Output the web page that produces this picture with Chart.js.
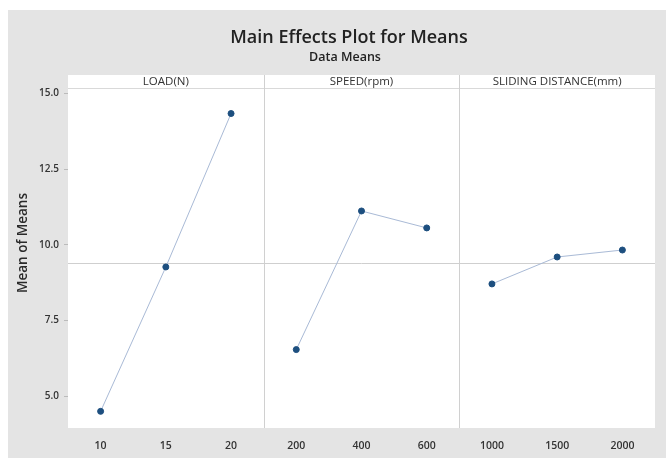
<!DOCTYPE html>
<html>
<head>
<meta charset="utf-8">
<script src="https://cdn.jsdelivr.net/npm/chart.js@4"></script>
<style>
  html, body { margin: 0; padding: 0; background: #ffffff; }
  #wrap { width: 666px; height: 458px; }
</style>
</head>
<body>
<div id="wrap"><canvas id="main-effects"></canvas></div>
<script>
// --- DATA ---
const factorNames = ['LOAD(N)', 'SPEED(rpm)', 'SLIDING DISTANCE(mm)'];
const loadLevels = ['10', '15', '20'];
const loadMeans = [4.50, 9.27, 14.34];
const speedLevels = ['200', '400', '600'];
const speedMeans = [6.54, 11.12, 10.56];
const distLevels = ['1000', '1500', '2000'];
const distMeans = [8.71, 9.60, 9.83];
const yTicks = [5.0, 7.5, 10.0, 12.5, 15.0];

// --- BUILD ---
const allLevels = [...loadLevels, ...speedLevels, ...distLevels];
const allMeans = [...loadMeans, ...speedMeans, ...distMeans];
const grandMean = allMeans.reduce((a, b) => a + b, 0) / allMeans.length;

function padSeries(values, slot) {
    const out = new Array(allLevels.length).fill(null);
    values.forEach((v, i) => { out[slot * 3 + i] = v; });
    return out;
}

const pointColor = '#1d4f7f';
const lineColor = '#a9bad6';

function makeDataset(label, values, slot) {
    return {
        label: label,
        data: padSeries(values, slot),
        borderColor: lineColor,
        borderWidth: 1,
        pointBackgroundColor: pointColor,
        pointBorderColor: pointColor,
        pointRadius: 3,
        spanGaps: false,
        tension: 0
    };
}

// background, header strip, titles and mean line
const decorPlugin = {
    id: 'decor',
    beforeDraw(chart) {
        const { ctx, chartArea } = chart;
        ctx.save();
        ctx.fillStyle = '#ffffff';
        ctx.fillRect(0, 0, chart.width, chart.height);
        ctx.fillStyle = '#e4e4e4';
        ctx.fillRect(8, 10, chart.width - 8, chart.height - 10);
        // white panel incl. strip
        ctx.fillStyle = '#ffffff';
        ctx.fillRect(chartArea.left, chartArea.top - 14, chartArea.right - chartArea.left, chartArea.bottom - chartArea.top + 14);
        ctx.strokeStyle = '#d9d9d9';
        ctx.lineWidth = 1;
        ctx.beginPath();
        ctx.moveTo(chartArea.left, chartArea.top - 0.5);
        ctx.lineTo(chartArea.right, chartArea.top - 0.5);
        ctx.stroke();

        // titles
        ctx.fillStyle = '#222222';
        ctx.textAlign = 'center';
        ctx.textBaseline = 'middle';
        ctx.font = '600 18px "Open Sans", sans-serif';
        ctx.fillText('Main Effects Plot for Means', 349, 38);
        ctx.font = '600 12.5px "Open Sans", sans-serif';
        ctx.fillText('Data Means', 345, 57);

        // y axis title
        ctx.save();
        ctx.translate(23, 243);
        ctx.rotate(-Math.PI / 2);
        ctx.font = '600 13.5px "Open Sans", sans-serif';
        ctx.fillStyle = '#2a2a2a';
        ctx.fillText('Mean of Means', 0, 0);
        ctx.restore();

        // strip labels and dividers
        const panelW = (chartArea.right - chartArea.left) / 3;
        ctx.font = '11.5px "Open Sans", sans-serif';
        ctx.fillStyle = '#333333';
        factorNames.forEach((name, i) => {
            ctx.fillText(name, chartArea.left + panelW * (i + 0.5), chartArea.top - 7);
        });
        ctx.strokeStyle = '#d0d0d0';
        for (let i = 1; i < 3; i++) {
            const x = Math.round(chartArea.left + panelW * i) + 0.5;
            ctx.beginPath();
            ctx.moveTo(x, chartArea.top - 14);
            ctx.lineTo(x, chartArea.bottom);
            ctx.stroke();
        }

        // grand mean reference line
        const y = Math.round(chart.scales.y.getPixelForValue(grandMean)) + 0.5;
        ctx.strokeStyle = '#cfcfcf';
        ctx.beginPath();
        ctx.moveTo(chartArea.left, y);
        ctx.lineTo(chartArea.right, y);
        ctx.stroke();
        ctx.restore();
    }
};

new Chart(document.getElementById('main-effects'), {
    type: 'line',
    data: {
        labels: allLevels,
        datasets: [
            makeDataset(factorNames[0], loadMeans, 0),
            makeDataset(factorNames[1], speedMeans, 1),
            makeDataset(factorNames[2], distMeans, 2)
        ]
    },
    options: {
        responsive: true,
        maintainAspectRatio: false,
        animation: false,
        layout: { padding: { left: 14, right: 11, top: 89, bottom: 0 } },
        plugins: {
            legend: { display: false },
            tooltip: { enabled: false }
        },
        scales: {
            x: {
                type: 'category',
                offset: true,
                grid: { display: false },
                border: { display: false },
                ticks: {
                    color: '#333333',
                    font: { family: '"Open Sans", sans-serif', size: 10.5, weight: '600' },
                    padding: 4,
                    maxRotation: 0,
                    autoSkip: false
                },
                afterFit(scale) { scale.height = 30; }
            },
            y: {
                min: 3.95,
                max: 15.15,
                afterBuildTicks(scale) { scale.ticks = yTicks.map(v => ({ value: v })); },
                grid: { drawOnChartArea: false, drawTicks: true, tickLength: 4, color: '#bbbbbb' },
                border: { display: false },
                ticks: {
                    color: '#333333',
                    font: { family: '"Open Sans", sans-serif', size: 10, weight: '600' },
                    padding: 5,
                    callback: v => Number(v).toFixed(1)
                },
                afterFit(scale) { scale.width = 54; }
            }
        }
    },
    plugins: [decorPlugin]
});
</script>
</body>
</html>
